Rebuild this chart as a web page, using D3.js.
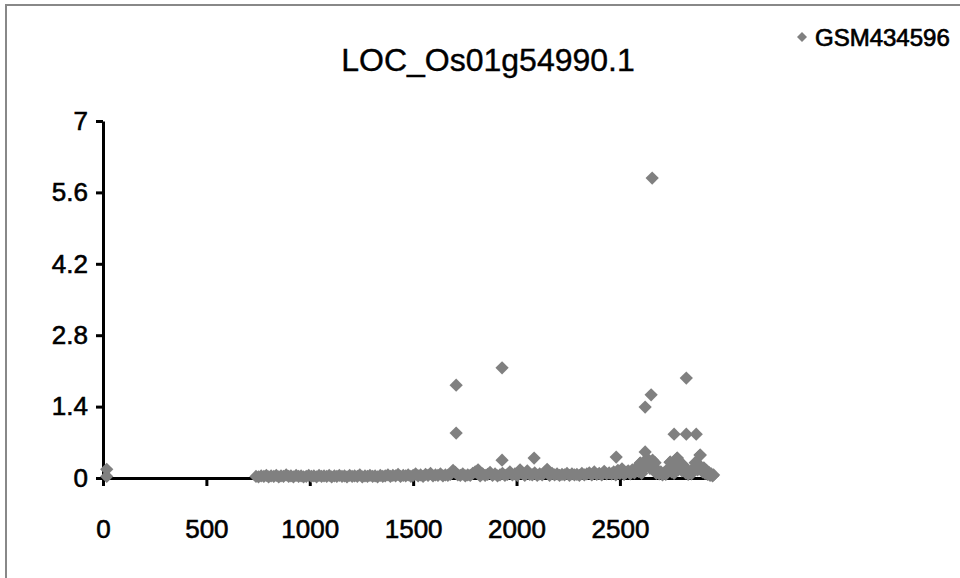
<!DOCTYPE html>
<html><head><meta charset="utf-8">
<script src="https://cdn.jsdelivr.net/npm/d3@7"></script>
<style>html,body{margin:0;padding:0;background:#fff;}svg{display:block;font-family:"Liberation Sans",Arial,sans-serif;}</style>
</head><body>
<script>
const chartTitle = "LOC_Os01g54990.1";
const seriesName = "GSM434596";
const xTicks = [0, 500, 1000, 1500, 2000, 2500];
const yTicks = [0, 1.4, 2.8, 4.2, 5.6, 7];
const yTickLabels = ["0", "1.4", "2.8", "4.2", "5.6", "7"];
const xDomain = [0, 2955];
const yDomain = [0, 7];

// [position, value]
const bandPoints = [
[18,0.17],[18,0.03],
[740,.03],[752,.02],[765,.04],[778,.03],[790,.05],[801,.02],[813,.04],[826,.03],[838,.05],[850,.02],[861,.04],[873,.03],[886,.06],[898,.03],[909,.04],[921,.02],[934,.05],[946,.03],[958,.04],[970,.02],[983,.03],[995,.05],[1008,.03],[1020,.04],[1033,.02],[1045,.05],[1057,.03],[1069,.04],[1082,.03],[1094,.05],[1106,.02],[1119,.04],[1131,.03],[1143,.05],[1156,.03],[1168,.04],[1180,.02],[1193,.05],[1205,.03],[1217,.04],[1230,.03],[1242,.06],[1254,.02],[1267,.04],[1279,.03],[1291,.05],[1304,.03],[1316,.04],[1328,.02],[1341,.05],[1353,.03],[1365,.04],[1378,.06],[1390,.03],[1402,.05],[1415,.04],[1427,.07],[1439,.03],[1452,.05],[1464,.04],[1476,.06],[1489,.03],
[1500,.05],[1512,.08],[1524,.04],[1536,.06],[1548,.03],[1560,.07],[1572,.05],[1584,.09],[1596,.04],[1608,.06],[1620,.05],[1632,.08],[1644,.04],[1656,.06],[1668,.05],[1680,.07],[1693,.15],[1704,.11],[1716,.06],[1728,.05],[1740,.08],[1752,.04],[1764,.06],[1776,.05],[1788,.09],[1800,.12],[1814,.16],[1824,.04],[1836,.08],[1848,.05],[1860,.07],[1872,.11],[1884,.05],[1896,.08],[1908,.04],[1920,.06],[1932,.09],[1944,.05],[1956,.07],[1968,.12],[1980,.06],[1992,.08],[2004,.05],[2017,.16],[2028,.09],[2040,.05],[2052,.14],[2064,.07],[2076,.06],[2088,.10],[2100,.05],[2112,.08],[2124,.06],[2136,.11],[2148,.17],[2160,.05],[2172,.09],[2184,.06],[2196,.08],[2208,.05],[2220,.07],[2232,.06],[2244,.09],[2256,.05],[2268,.08],[2280,.06],[2292,.07],[2304,.05],[2316,.09],[2328,.06],[2340,.08],[2352,.10],[2364,.06],[2376,.12],[2388,.07],[2400,.09],[2412,.06],[2424,.13],[2436,.08],[2448,.10],
[2460,.08],[2470,.12],[2480,.06],[2490,.15],[2500,.09],[2510,.18],[2520,.07],[2530,.11],[2540,.14],[2550,.08],[2560,.16],[2570,.10],[2580,.20],[2590,.13],[2598,.29],[2605,.09],[2612,.18],[2618,.32],[2626,.22],[2632,.38],[2638,.28],[2645,.19],[2652,.25],[2658,.35],[2664,.21],[2670,.30],[2676,.09],[2682,.14],[2690,.08],[2698,.12],[2706,.06],[2714,.10],[2722,.07],[2730,.15],[2738,.20],[2743,.31],[2750,.12],[2756,.18],[2762,.09],[2768,.24],[2777,.39],[2782,.16],[2788,.28],[2794,.20],[2800,.14],[2806,.25],[2812,.18],[2818,.10],[2824,.15],[2830,.07],[2838,.12],[2846,.08],[2852,.14],[2858,.20],[2864,.30],[2870,.22],[2876,.16],[2882,.26],[2888,.45],[2894,.18],[2900,.12],[2906,.20],[2912,.09],[2918,.15],[2924,.07],[2930,.11],[2936,.05],[2942,.08],[2948,.04],[2953,.06]
];
const outlierPoints = [
[1708,1.82],[1708,0.88],[1930,2.16],[1930,0.35],[2085,0.39],[2482,0.41],
[2622,1.39],[2651,1.63],[2656,5.88],[2821,1.96],[2762,0.86],[2821,0.86],[2869,0.86],
[2622,0.51],[2777,0.39],[2888,0.45],[2743,0.31],[2806,0.25],[2598,0.29],[2661,0.25]
];

const W = 960, H = 578;
const svg = d3.select("body").append("svg").attr("width", W).attr("height", H);

svg.append("rect").attr("x", 6).attr("y", 5).attr("width", W + 20).attr("height", H + 20)
  .attr("fill", "#fff").attr("stroke", "#888").attr("stroke-width", 2);

const x = d3.scaleLinear().domain(xDomain).range([103, 714]);
const y = d3.scaleLinear().domain(yDomain).range([478, 121]);

const fontSize = 26;

const xAxis = svg.append("g").attr("transform", `translate(0,${y(0)})`)
  .call(d3.axisBottom(x).tickValues(xTicks).tickFormat(d3.format("d")).tickSize(8).tickSizeOuter(0).tickPadding(34));
const yAxis = svg.append("g").attr("transform", `translate(${x(0)},0)`)
  .call(d3.axisLeft(y).tickValues(yTicks).tickFormat((d, i) => yTickLabels[i]).tickSize(7).tickSizeOuter(0).tickPadding(8));

[xAxis, yAxis].forEach(g => {
  g.select(".domain").attr("stroke", "#000").attr("stroke-width", 3);
  g.selectAll(".tick line").attr("stroke", "#000").attr("stroke-width", 3);
  g.selectAll(".tick text").attr("fill", "#000").attr("font-size", fontSize)
    .attr("stroke", "#000").attr("stroke-width", 0.6)
    .attr("font-family", '"Liberation Sans",Arial,sans-serif');
});

const diamond = d3.symbol().type(d3.symbolSquare).size(88);
svg.append("g").selectAll("path").data(bandPoints.concat(outlierPoints)).join("path")
  .attr("d", diamond)
  .attr("transform", d => `translate(${x(d[0])},${y(d[1])}) rotate(45)`)
  .attr("fill", "#808080");

svg.append("text").attr("x", 488).attr("y", 71).attr("text-anchor", "middle")
  .attr("font-size", 32).attr("fill", "#000").attr("stroke", "#000").attr("stroke-width", 0.4)
  .text(chartTitle);

svg.append("path").attr("d", d3.symbol().type(d3.symbolSquare).size(50))
  .attr("transform", "translate(802,37) rotate(45)").attr("fill", "#808080");
svg.append("text").attr("x", 815).attr("y", 46).attr("font-size", 24)
  .attr("fill", "#000").attr("stroke", "#000").attr("stroke-width", 0.7).text(seriesName);
</script>
</body></html>
